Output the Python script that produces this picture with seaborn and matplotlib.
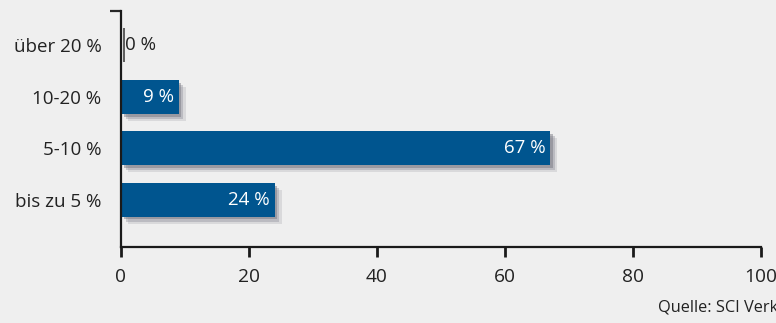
import matplotlib
matplotlib.use("Agg")
import matplotlib.pyplot as plt
import matplotlib.patheffects as pe
import seaborn as sns
import pandas as pd

categories = ["über 20 %", "10-20 %", "5-10 %", "bis zu 5 %"]
values = [0, 9, 67, 24]
value_labels = ["0 %", "9 %", "67 %", "24 %"]
xticks = [0, 20, 40, 60, 80, 100]
source = "Quelle: SCI Verkehr"

bg = "#efefef"
bar_color = "#00558f"
text_color = "#222222"

sns.set_theme(style="white")
plt.rcParams["font.family"] = ["Open Sans", "DejaVu Sans"]

fig = plt.figure(figsize=(7.76, 3.23), dpi=100, facecolor=bg)
ax = fig.add_axes([121/776, 1-247/323, 640/776, 236/323])
ax.set_facecolor(bg)

df = pd.DataFrame({"cat": categories, "val": values})
sns.barplot(data=df, y="cat", x="val", orient="h", color=bar_color,
            width=0.66, saturation=1, ax=ax, order=categories)

shadow = [pe.SimplePatchShadow(offset=(5, -5), shadow_rgbFace="#b0b0b6", alpha=0.35),
          pe.SimplePatchShadow(offset=(3.5, -3.5), shadow_rgbFace="#90909a", alpha=0.4),
          pe.SimplePatchShadow(offset=(2, -2), shadow_rgbFace="#70707a", alpha=0.45),
          pe.Normal()]
for p, v in zip(ax.patches, values):
    if v > 0:
        p.set_path_effects(shadow)
        p.set_edgecolor("none")
    else:
        p.set_edgecolor("#444444")
        p.set_linewidth(1.2)
        p.set_zorder(5)
        p.set_clip_on(False)
        p.set_path_effects([pe.Stroke(offset=(1.8, 0))])

for i, (v, lab) in enumerate(zip(values, value_labels)):
    if v > 0:
        ax.text(v - 0.7, i, lab, ha="right", va="center", color="white", fontsize=13.5)
    else:
        ax.text(v + 0.6, i, lab, ha="left", va="center", color=text_color, fontsize=13.5)

ax.set_xlim(0, 100)
ax.set_ylim(3.92, -0.67)
ax.set_xticks(xticks)
ax.set_xticklabels([str(t) for t in xticks])
ax.set_yticks([-0.67] + list(range(len(categories))))
ax.set_yticklabels([""] + categories)
ax.set_xlabel("")
ax.set_ylabel("")

for s in ["top", "right"]:
    ax.spines[s].set_visible(False)
for s in ["left", "bottom"]:
    ax.spines[s].set_color("#1a1a1a")
    ax.spines[s].set_linewidth(1.6)

ax.tick_params(axis="x", length=7, width=2, color="#1a1a1a", labelsize=13.8,
               labelcolor=text_color, pad=8, direction="out", bottom=True)
ax.tick_params(axis="y", length=0, labelsize=13.5, labelcolor=text_color, pad=14, left=True)
yt = ax.yaxis.get_major_ticks()
yt[0].tick1line.set_markersize(8)
yt[0].tick1line.set_markeredgewidth(1.6)
yt[0].tick1line.set_color("#1a1a1a")

fig.text(658/776, 1-307/323, source, ha="left", va="center", fontsize=11.8, color=text_color)

fig.savefig("out.png", dpi=100, facecolor=bg)
